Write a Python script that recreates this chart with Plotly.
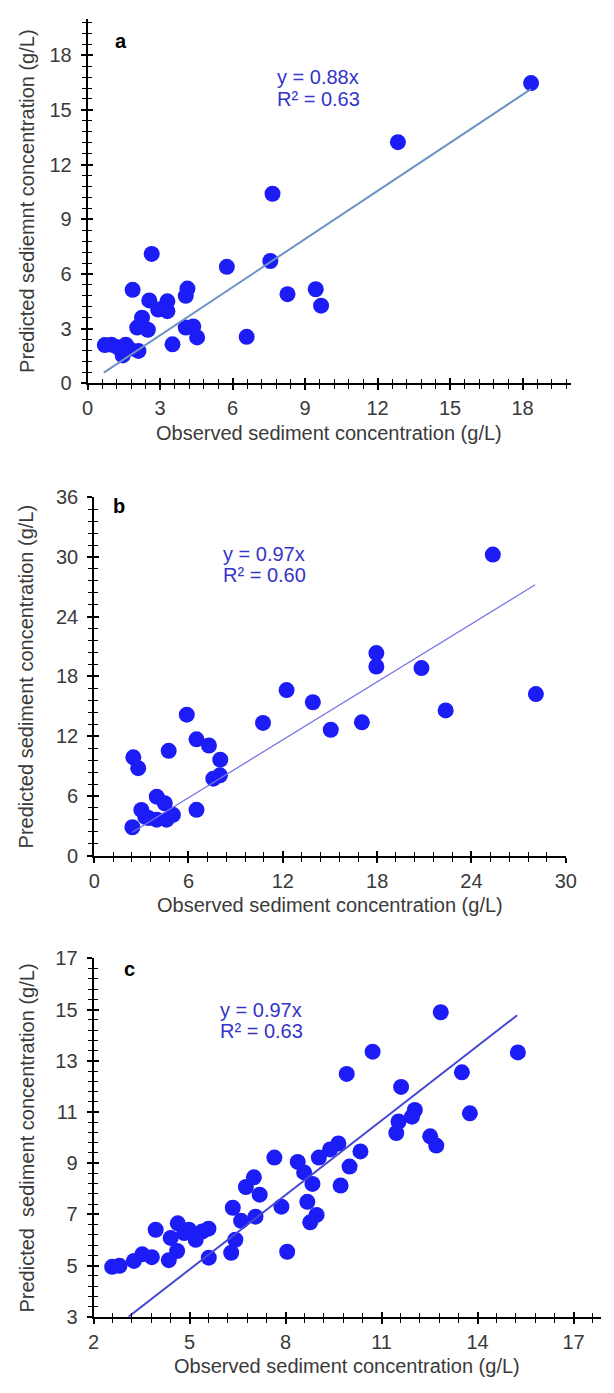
import plotly.graph_objects as go

# ---------------- data ----------------
a_obs = [0.71, 0.98, 1.25, 1.45, 1.58, 1.72, 2.10, 1.86, 2.05, 2.25, 2.49, 2.55, 2.65, 2.92, 3.30, 3.30,
         3.51, 4.06, 4.37, 4.53, 4.06, 4.13, 5.76, 6.58, 7.56, 7.65, 8.27, 9.44, 9.66, 12.84, 18.35]
a_pred = [2.10, 2.12, 1.98, 1.53, 2.12, 1.89, 1.78, 5.13, 3.06, 3.60, 2.94, 4.55, 7.10, 4.05, 4.50, 3.96,
          2.14, 3.06, 3.12, 2.52, 4.80, 5.20, 6.39, 2.55, 6.71, 10.40, 4.89, 5.16, 4.26, 13.23, 16.47]
a_slope = 0.88
a_fit_x = [0.67, 18.35]

b_obs = [2.43, 3.00, 3.46, 3.98, 4.49, 3.98, 4.60, 5.01, 3.25, 2.49, 2.80, 4.74, 5.89, 6.51, 7.30, 8.02,
         7.58, 8.00, 6.51, 10.74, 12.24, 13.91, 15.05, 17.03, 17.95, 17.95, 20.82, 22.36, 25.36, 28.10]
b_pred = [2.86, 4.60, 3.78, 5.93, 5.27, 3.62, 3.62, 4.11, 3.90, 9.88, 8.79, 10.53, 14.16, 11.69, 11.07, 9.65,
          7.74, 8.07, 4.61, 13.34, 16.63, 15.41, 12.65, 13.40, 20.35, 19.00, 18.84, 14.59, 30.24, 16.23]
b_slope = 0.97
b_fit_x = [2.40, 28.05]

c_obs = [2.58, 2.81, 3.26, 3.52, 3.82, 3.94, 4.35, 4.61, 4.41, 4.63, 4.83, 4.98, 5.19, 5.39, 5.59, 5.60,
         6.30, 6.43, 6.35, 6.61, 7.06, 6.76, 7.01, 7.19, 7.65, 7.87, 8.05, 8.38, 8.58, 8.84, 8.68, 8.97,
         8.77, 9.04, 9.39, 9.65, 9.72, 10.00, 10.34, 9.91, 10.72, 11.46, 11.53, 11.61, 11.95, 12.04, 12.52,
         12.71, 12.85, 13.51, 13.76, 15.26]
c_pred = [4.95, 4.99, 5.18, 5.44, 5.33, 6.40, 5.21, 5.57, 6.08, 6.65, 6.27, 6.40, 6.01, 6.33, 6.44, 5.31,
          5.50, 6.01, 7.26, 6.75, 6.91, 8.07, 8.45, 7.77, 9.22, 7.30, 5.54, 9.05, 8.64, 8.19, 7.49, 6.98,
          6.69, 9.22, 9.54, 9.77, 8.13, 8.87, 9.46, 12.49, 13.36, 10.18, 10.63, 11.98, 10.82, 11.08, 10.05,
          9.69, 14.90, 12.55, 10.95, 13.33]
c_slope = 0.97
c_fit_x = [3.09, 15.24]

panel_letters = ["a", "b", "c"]
eq_lines = [["y = 0.88x", "R² = 0.63"], ["y = 0.97x", "R² = 0.60"], ["y = 0.97x", "R² = 0.63"]]
x_title = "Observed sediment concentration (g/L)"
y_titles = ["Predicted sediemnt concentration (g/L)",
            "Predicted sediment concentration (g/L)",
            "Predicted\u00a0 sediment concentration (g/L)"]

# ---------------- layout geometry (pixels) ----------------
W, H = 614, 1393
panels = [
    dict(obs=a_obs, pred=a_pred, slope=a_slope, fx=a_fit_x, px=(84, 581), py=(7.9, 378.3),
         xr=[0, 20], yr=[0, 20], xd=3, xm=0.6, yd=3, ym=0.6, x0=0, y0=0,
         line_color="#6b93c6", line_w=2.0, letter_xy=(1.37, 18.8), eq_x=7.76, eq_y=(16.83, 15.6)),
    dict(obs=b_obs, pred=b_pred, slope=b_slope, fx=b_fit_x, px=(90.7, 575.7), py=(494, 858.3),
         xr=[0, 30], yr=[0, 36], xd=6, xm=1.2, yd=6, ym=1.2, x0=0, y0=0,
         line_color="#7676e6", line_w=1.3, letter_xy=(1.56, 35.1), eq_x=8.06, eq_y=(30.3, 28.16)),
    dict(obs=c_obs, pred=c_pred, slope=c_slope, fx=c_fit_x, px=(90.1, 612), py=(962.7, 1326.7),
         xr=[2, 17.86], yr=[3, 17], xd=3, xm=0.6, yd=2, ym=0.4, x0=2, y0=3,
         line_color="#4848d4", line_w=2.0, letter_xy=(3.12, 16.6), eq_x=5.9, eq_y=(14.99, 14.15)),
]

FONT = "Arial, Liberation Sans, sans-serif"
TICK_COLOR = "#3a3a3a"
fig = go.Figure()
layout = dict(width=W, height=H, margin=dict(l=0, r=0, t=0, b=0), paper_bgcolor="white",
              plot_bgcolor="white", showlegend=False, annotations=[])

for i, p in enumerate(panels):
    n = i + 1
    no = i + 4
    xs = "" if n == 1 else str(n)
    ys = xs
    xdom = [p["px"][0] / W, p["px"][1] / W]
    ydom = [1 - p["py"][1] / H, 1 - p["py"][0] / H]

    fig.add_trace(go.Scatter(x=p["obs"], y=p["pred"], mode="markers",
                             marker=dict(color="#1c1cf6", size=16, line=dict(width=0)),
                             xaxis="x" + xs, yaxis="y" + ys, hoverinfo="x+y"))
    fit_y = [p["slope"] * v for v in p["fx"]]
    fig.add_trace(go.Scatter(x=p["fx"], y=fit_y, mode="lines",
                             line=dict(color=p["line_color"], width=p["line_w"]),
                             xaxis="x" + xs, yaxis="y" + ys, hoverinfo="skip"))
    # empty trace on overlay axes (for crossing "inside" ticks)
    fig.add_trace(go.Scatter(x=[], y=[], xaxis="x%d" % no, yaxis="y%d" % no, hoverinfo="skip"))

    common_main = dict(showgrid=False, zeroline=False, showline=True, linecolor="black", linewidth=2,
                       ticks="outside", ticklen=5, tickwidth=1.6, tickcolor="black",
                       tickfont=dict(family=FONT, size=20, color=TICK_COLOR))
    layout["xaxis" + xs] = dict(common_main, domain=xdom, range=p["xr"], anchor="y" + ys,
                                tick0=p["x0"], dtick=p["xd"], ticklabelstandoff=1,
                                minor=dict(tick0=p["x0"], dtick=p["xm"], ticks="outside", ticklen=4,
                                           tickwidth=1.4, tickcolor="black", showgrid=False))
    layout["yaxis" + ys] = dict(common_main, domain=ydom, range=p["yr"], anchor="x" + xs,
                                tick0=p["y0"], dtick=p["yd"], ticklabelstandoff=5,
                                minor=dict(tick0=p["y0"], dtick=p["ym"], ticks="outside", ticklen=4,
                                           tickwidth=1.4, tickcolor="black", showgrid=False))
    common_ov = dict(showgrid=False, zeroline=False, showline=False, showticklabels=False,
                     ticks="inside", ticklen=5, tickwidth=1.6, tickcolor="black")
    layout["xaxis%d" % no] = dict(common_ov, overlaying="x" + xs, anchor="y%d" % no, range=p["xr"],
                                  tick0=p["x0"], dtick=p["xd"],
                                  minor=dict(tick0=p["x0"], dtick=p["xm"], ticks="inside", ticklen=4,
                                             tickwidth=1.4, tickcolor="black", showgrid=False))
    layout["yaxis%d" % no] = dict(common_ov, overlaying="y" + ys, anchor="x%d" % no, range=p["yr"],
                                  tick0=p["y0"], dtick=p["yd"],
                                  minor=dict(tick0=p["y0"], dtick=p["ym"], ticks="inside", ticklen=4,
                                             tickwidth=1.4, tickcolor="black", showgrid=False))

    # panel letter
    layout["annotations"].append(dict(x=p["letter_xy"][0], y=p["letter_xy"][1], xref="x" + xs, yref="y" + ys,
                                      text="<b>%s</b>" % panel_letters[i], showarrow=False,
                                      font=dict(family=FONT, size=20, color="black"),
                                      xanchor="center", yanchor="middle"))
    # equation (two lines)
    for line_text, ly in zip(eq_lines[i], p["eq_y"]):
        layout["annotations"].append(dict(x=p["eq_x"], y=ly, xref="x" + xs, yref="y" + ys,
                                          text=line_text, showarrow=False, align="left",
                                          font=dict(family=FONT, size=20, color="#3434c8"),
                                          xanchor="left", yanchor="middle"))
    # axis titles
    xc = (p["px"][0] + p["px"][1]) / 2 / W
    layout["annotations"].append(dict(x=xc, y=1 - (p["py"][1] + 50) / H, xref="paper", yref="paper",
                                      text=x_title, showarrow=False,
                                      font=dict(family=FONT, size=20, color=TICK_COLOR),
                                      xanchor="center", yanchor="middle"))
    yc = 1 - (p["py"][0] + p["py"][1]) / 2 / H
    layout["annotations"].append(dict(x=21.5 / W, y=yc, xref="paper", yref="paper",
                                      text=y_titles[i], showarrow=False, textangle=-90,
                                      font=dict(family=FONT, size=20, color=TICK_COLOR),
                                      xanchor="center", yanchor="middle"))

fig.update_layout(**layout)
fig.write_html("out.html")
